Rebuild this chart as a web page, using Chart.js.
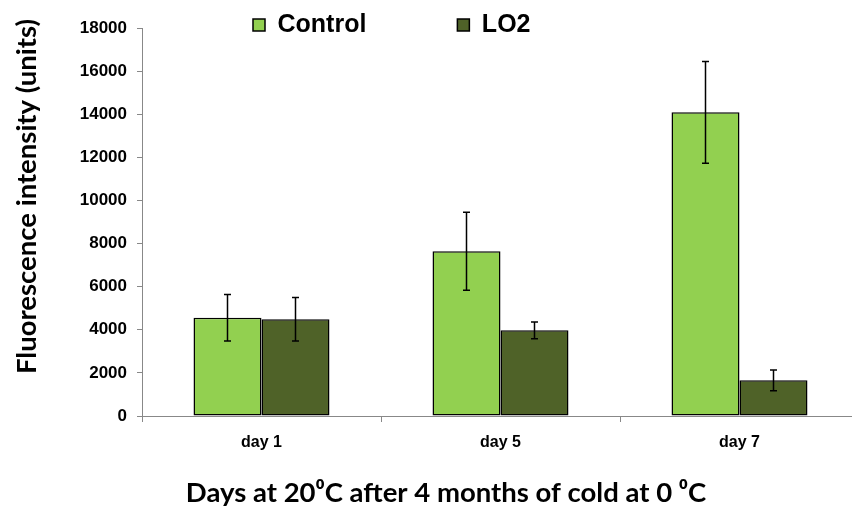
<!DOCTYPE html>
<html>
<head>
<meta charset="utf-8">
<script src="https://cdn.jsdelivr.net/npm/chart.js@4.4.1/dist/chart.umd.min.js"></script>
<style>
html, body { margin: 0; padding: 0; background: #fff; overflow: hidden; width: 852px; height: 506px; }
#wrap { width: 870px; height: 506px; }
</style>
</head>
<body>
<div id="wrap"><canvas id="c" width="870" height="506"></canvas></div>
<script>
// ---- data ----
const categories = ['day 1', 'day 5', 'day 7'];
const controlValues = [4560, 7640, 14090];
const controlErrors = [1080, 1810, 2360];
const lo2Values = [4490, 3975, 1655];
const lo2Errors = [1010, 390, 480];
const yTicks = [0, 2000, 4000, 6000, 8000, 10000, 12000, 14000, 16000, 18000];
const seriesNames = ['Control', 'LO2'];
const yTitle = 'Fluorescence intensity (units)';
const xTitle = 'Days at 20\u2070C after 4 months of cold at 0 \u2070C';

const errorsByDataset = [controlErrors, lo2Errors];

const errorBars = {
  id: 'errorBars',
  afterDatasetsDraw(chart) {
    const ctx = chart.ctx;
    const y = chart.scales.y;
    ctx.save();
    ctx.strokeStyle = '#000';
    ctx.lineWidth = 1.5;
    chart.data.datasets.forEach((ds, i) => {
      const meta = chart.getDatasetMeta(i);
      meta.data.forEach((bar, j) => {
        const v = ds.data[j], e = errorsByDataset[i][j];
        const yt = y.getPixelForValue(v + e);
        const yb = y.getPixelForValue(v - e);
        const x = bar.x, cw = 3.5;
        ctx.beginPath();
        ctx.moveTo(x, yt); ctx.lineTo(x, yb);
        ctx.moveTo(x - cw, yt); ctx.lineTo(x + cw, yt);
        ctx.moveTo(x - cw, yb); ctx.lineTo(x + cw, yb);
        ctx.stroke();
      });
    });
    ctx.restore();
  }
};

const placeBoxes = {
  id: 'placeBoxes',
  beforeLayout(chart) {
    const lg = chart.legend;
    if (lg && !lg._patched) {
      const orig = lg.fit;
      lg.fit = function () { orig.call(this); this.height = 28; };
      lg._patched = true;
    }
  },
  afterLayout(chart) {
    const lg = chart.legend;
    if (lg) {
      const pad = lg.options.labels.padding;
      lg.left = 253 - pad;
      lg.right = 870;
      lg.top = 25 - pad - 12.5;
      lg.bottom = 60;
    }
    chart.boxes.forEach(b => {
      if (b.options && b.options.text === xTitle) {
        const h = b.bottom - b.top;
        b.left = 22; b.right = 870;
        b.top = 493 - 14; b.bottom = b.top + h;
      }
      if (b.options && b.options.text === yTitle) {
        const w = b.right - b.left;
        b.top = 0; b.bottom = 393;
        b.left = 26.5 - 13.5; b.right = b.left + w;
      }
    });
  }
};

new Chart(document.getElementById('c'), {
  type: 'bar',
  data: {
    labels: categories,
    datasets: [
      { label: seriesNames[0], data: controlValues, backgroundColor: '#92D050', borderColor: '#000', borderWidth: 1.5, borderSkipped: false },
      { label: seriesNames[1], data: lo2Values, backgroundColor: '#4F6228', borderColor: '#000', borderWidth: 1.5, borderSkipped: false }
    ]
  },
  options: {
    responsive: false,
    animation: false,
    events: [],
    layout: { padding: { left: 0, right: 11, top: 0, bottom: 0 } },
    datasets: { bar: { barPercentage: 1.0, categoryPercentage: 0.569 } },
    plugins: {
      tooltip: { enabled: false },
      legend: {
        position: 'top',
        align: 'start',
        labels: {
          boxWidth: 12, boxHeight: 12, padding: 91, color: '#000',
          font: { family: 'Liberation Sans, Arial, sans-serif', size: 25, weight: 'bold' }
        }
      },
      title: {
        display: true, position: 'bottom', text: xTitle, color: '#000',
        padding: 0,
        font: { family: 'Lato, sans-serif', size: 27.5, weight: 'bold', lineHeight: 1.0 }
      },
      subtitle: {
        display: true, position: 'left', text: yTitle, color: '#000',
        padding: 0,
        font: { family: 'Lato, sans-serif', size: 27.5, weight: 'bold', lineHeight: 1.0 }
      }
    },
    scales: {
      x: {
        grid: { display: true, drawOnChartArea: false, drawTicks: true, tickLength: 6, color: '#888', offset: true },
        border: { display: true, color: '#888', width: 1 },
        ticks: { color: '#000', padding: 11, font: { family: 'Liberation Sans, Arial, sans-serif', size: 16, weight: 'bold' } },
        afterFit(s) { s.height = 506 - 27.5 - 416; }
      },
      y: {
        min: 0, max: 18000,
        afterBuildTicks(s) { s.ticks = yTicks.map(v => ({ value: v })); },
        grid: { display: true, drawOnChartArea: false, drawTicks: true, tickLength: 5, color: '#888' },
        border: { display: true, color: '#888', width: 1 },
        ticks: {
          color: '#000', padding: 10,
          font: { family: 'Liberation Sans, Arial, sans-serif', size: 17, weight: 'bold' },
          callback: (v) => String(v)
        },
        afterFit(s) { s.width = 142 - 27.5; }
      }
    }
  },
  plugins: [errorBars, placeBoxes]
});
</script>
</body>
</html>
